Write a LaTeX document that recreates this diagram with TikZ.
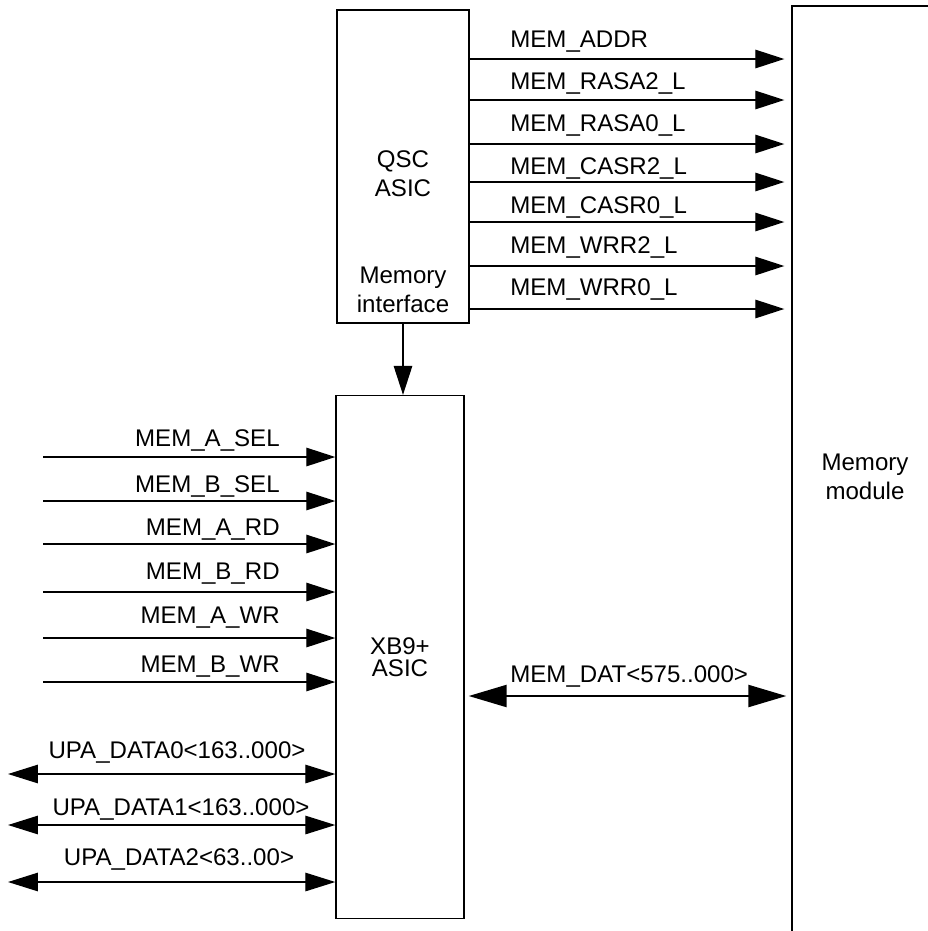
\documentclass[tikz,border=0pt]{standalone}
\usepackage{fontspec}
\setmainfont{Liberation Sans}
\usetikzlibrary{arrows.meta,positioning}

\begin{document}
\begin{tikzpicture}[x=0.02cm, y=-0.02cm,
  blk/.style={draw, line width=0.8pt, align=center, inner sep=0pt, font=\fontsize{13.7}{16.5}\selectfont},
  lbl/.style={inner sep=0pt, font=\fontsize{13.7}{16.5}\selectfont},
  sig/.style={-{Triangle[length=0.58cm, width=0.37cm]}, line width=0.75pt},
  bus/.style={{Triangle[length=0.6cm, width=0.37cm]}-{Triangle[length=0.6cm, width=0.37cm]}, line width=0.75pt},
  wide/.style={{Triangle[length=0.76cm, width=0.44cm]}-{Triangle[length=0.76cm, width=0.44cm]}, line width=1.3pt},
]
\useasboundingbox (0,0) rectangle (928,931);
\clip (0,0) rectangle (928,931);

% blocks
\node[blk, minimum width=2.64cm, minimum height=6.26cm,
  label={[lbl, align=center, yshift=-0.14cm]center:QSC\\ASIC},
  label={[lbl, align=center, anchor=south, yshift=0.22cm]south:Memory\\interface}] (qsc) at (403,166.5) {};
\node[blk, minimum width=2.56cm, minimum height=10.46cm, font=\fontsize{13.7}{12.5}\selectfont] (xb) at (400,657) {XB9+\\ASIC};
\node[blk, minimum width=2.92cm, minimum height=18.84cm] (mem) at (865,477) {Memory\\module};

% QSC -> memory module
\coordinate (addr) at (472,59);
\coordinate (rasa2) at (472,100);
\coordinate (rasa0) at (472,144);
\coordinate (casr2) at (472,182);
\coordinate (casr0) at (472,222);
\coordinate (wrr2) at (472,266);
\coordinate (wrr0) at (472,309);
\draw[sig, shorten >=0.14cm] (qsc.east |- addr) -- (mem.west |- addr);
\draw[sig, shorten >=0.14cm] (qsc.east |- rasa2) -- (mem.west |- rasa2);
\draw[sig, shorten >=0.14cm] (qsc.east |- rasa0) -- (mem.west |- rasa0);
\draw[sig, shorten >=0.14cm] (qsc.east |- casr2) -- (mem.west |- casr2);
\draw[sig, shorten >=0.14cm] (qsc.east |- casr0) -- (mem.west |- casr0);
\draw[sig, shorten >=0.14cm] (qsc.east |- wrr2) -- (mem.west |- wrr2);
\draw[sig, shorten >=0.14cm] (qsc.east |- wrr0) -- (mem.west |- wrr0);
\node[lbl, anchor=base west] (addrlbl) at (510,47) {MEM\_ADDR};
\node[lbl, anchor=base west] (rasa2lbl) at (510,89) {MEM\_RASA2\_L};
\node[lbl, anchor=base west] (rasa0lbl) at (510,131) {MEM\_RASA0\_L};
\node[lbl, anchor=base west] (casr2lbl) at (510,174) {MEM\_CASR2\_L};
\node[lbl, anchor=base west] (casr0lbl) at (510,213) {MEM\_CASR0\_L};
\node[lbl, anchor=base west] (wrr2lbl) at (510,253) {MEM\_WRR2\_L};
\node[lbl, anchor=base west] (wrr0lbl) at (510,295) {MEM\_WRR0\_L};

% QSC -> XB9+
\draw[sig] (qsc.south) -- (qsc.south |- xb.north);

% inputs to XB9+
\coordinate (asel) at (43,457);
\coordinate (bsel) at (43,501);
\coordinate (ard) at (43,544);
\coordinate (brd) at (43,592);
\coordinate (awr) at (43,638);
\coordinate (bwr) at (43,682);
\draw[sig] (asel) -- (xb.west |- asel);
\draw[sig] (bsel) -- (xb.west |- bsel);
\draw[sig] (ard) -- (xb.west |- ard);
\draw[sig] (brd) -- (xb.west |- brd);
\draw[sig] (awr) -- (xb.west |- awr);
\draw[sig] (bwr) -- (xb.west |- bwr);
\node[lbl, anchor=base east] (asellbl) at (280,446) {MEM\_A\_SEL};
\node[lbl, anchor=base east] (bsellbl) at (280,492) {MEM\_B\_SEL};
\node[lbl, anchor=base east] (ardlbl) at (280,535) {MEM\_A\_RD};
\node[lbl, anchor=base east] (brdlbl) at (280,579) {MEM\_B\_RD};
\node[lbl, anchor=base east] (awrlbl) at (280,623) {MEM\_A\_WR};
\node[lbl, anchor=base east] (bwrlbl) at (280,672) {MEM\_B\_WR};

% UPA buses
\coordinate (upa0) at (8,774);
\coordinate (upa1) at (8,825);
\coordinate (upa2) at (8,882);
\draw[bus] (upa0) -- (xb.west |- upa0);
\draw[bus] (upa1) -- (xb.west |- upa1);
\draw[bus] (upa2) -- (xb.west |- upa2);
\node[lbl, anchor=base] (upa0lbl) at (177,758) {UPA\_DATA0<163..000>};
\node[lbl, anchor=base] (upa1lbl) at (181,815) {UPA\_DATA1<163..000>};
\node[lbl, anchor=base] (upa2lbl) at (179,865) {UPA\_DATA2<63..00>};

% memory data bus
\coordinate (dat) at (468,696);
\draw[wide, shorten <=0.08cm, shorten >=0.1cm] (xb.east |- dat) -- (mem.west |- dat);
\node[lbl, anchor=base west] (datlbl) at (510,682) {MEM\_DAT<575..000>};
\end{tikzpicture}
\end{document}
